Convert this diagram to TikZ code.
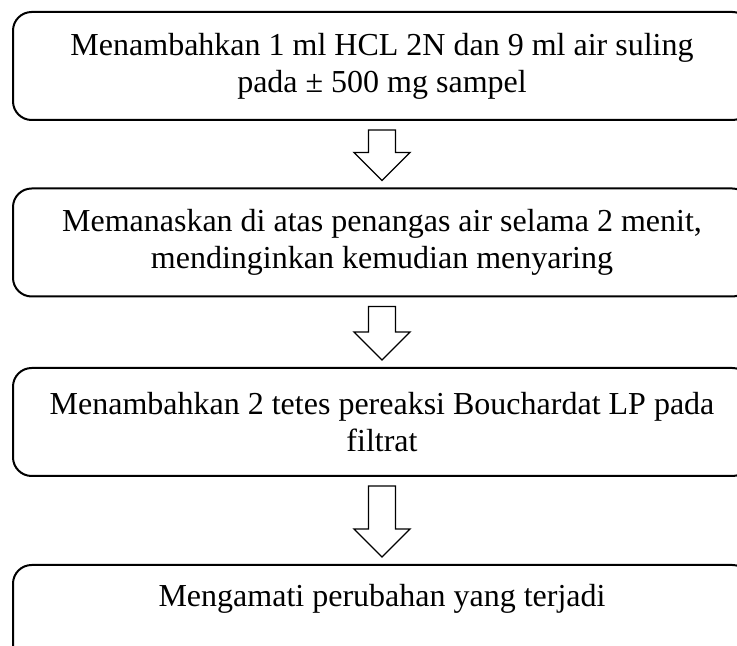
\documentclass[tikz,border=0pt]{standalone}
\usepackage{fontspec}
\setmainfont{Liberation Serif}
\usetikzlibrary{calc}

\tikzset{
  stepbox/.style={draw, line width=0.75pt, rounded corners=7pt, minimum width=276.75pt,
    minimum height=40.5pt, inner sep=0pt, align=center, font=\fontsize{12}{13.8}\selectfont},
  blockarrow/.style={draw, line width=0.5pt, fill=white}
}

\begin{document}
\begin{tikzpicture}[x=0.375pt, y=-0.375pt]
\useasboundingbox (0,0) rectangle (737,646);

% steps
\node[stepbox] (s1) at (382,66) {Menambahkan 1 ml HCL 2N dan 9 ml air suling\\pada ± 500 mg sampel};
\node[stepbox] (s2) at (382,242.5) {Memanaskan di atas penangas air selama 2 menit,\\mendinginkan kemudian menyaring};
\node[stepbox] (s3) at (382,422) {Menambahkan 2 tetes pereaksi Bouchardat LP pada\\filtrat};
\node[stepbox] (s4) at (382,619) {Mengamati perubahan yang terjadi\\ \strut};

% block arrows between steps
\foreach \a/\b in {s1/s2,s2/s3,s3/s4}{
  \path ($(\a.south)+(0,9)$) coordinate (t) ($(\b.north)+(0,-7)$) coordinate (h);
  \draw[blockarrow] ($(t)+(-13.5,0)$) -- ($(h)+(-13.5,-28)$) -- ($(h)+(-28,-28)$) -- (h)
    -- ($(h)+(28,-28)$) -- ($(h)+(13.5,-28)$) -- ($(t)+(13.5,0)$) -- cycle;
}
\end{tikzpicture}
\end{document}
